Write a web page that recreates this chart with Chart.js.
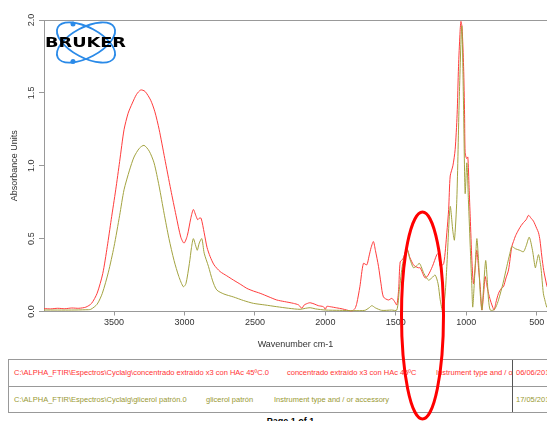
<!DOCTYPE html>
<html>
<head>
<meta charset="utf-8">
<script src="https://cdn.jsdelivr.net/npm/chart.js@4.4.1/dist/chart.umd.min.js"></script>
<style>
body { margin:0; width:547px; height:421px; overflow:hidden; background:#fff; font-family:"Liberation Sans", Arial, sans-serif; position:relative; }
#wrap { position:absolute; left:0; top:0; width:547px; height:350px; }
.tbl { position:absolute; left:8px; top:359px; width:600px; height:52px; border:1px solid #999; border-right:none; }
.row { position:absolute; left:0; width:600px; height:26px; font-size:7.5px; white-space:nowrap; line-height:26px; }
.r1 { top:0; border-bottom:1px solid #999; color:#ff3333; }
.r2 { top:27px; color:#999933; }
.row span { position:absolute; top:0; }
.clip { position:absolute; left:0; top:0; width:503px; height:26px; overflow:hidden; }
.div { position:absolute; left:503px; top:0; width:1px; height:52px; background:#555; }
.page { position:absolute; left:0; width:581px; top:417px; text-align:center; font-weight:bold; font-size:9px; line-height:1; color:#000; }
svg { position:absolute; left:0; top:0; }
</style>
</head>
<body>
<div id="wrap"><canvas id="spec" width="547" height="350"></canvas></div>
<div class="tbl">
  <div class="row r1">
    <div class="clip">
      <span style="left:5px">C:\ALPHA_FTIR\Espectros\Cyclalg\concentrado extraído x3 con HAc 45ºC.0</span>
      <span style="left:278px">concentrado extraído x3 con HAc 45ºC</span>
      <span style="left:427px">Instrument type and / or accessory</span>
    </div>
    <span style="left:507px">06/06/2012</span>
  </div>
  <div class="row r2">
    <div class="clip">
      <span style="left:5px">C:\ALPHA_FTIR\Espectros\Cyclalg\glicerol patrón.0</span>
      <span style="left:197px">glicerol patrón</span>
      <span style="left:265px">Instrument type and / or accessory</span>
    </div>
    <span style="left:507px">17/05/2012</span>
  </div>
  <div class="div"></div>
</div>
<div class="page">Page 1 of 1</div>
<svg width="547" height="421"><ellipse cx="422.5" cy="315.5" rx="21" ry="103.5" fill="none" stroke="#ff0000" stroke-width="3"/></svg>
<script>
// concentrado extraido x3 con HAc 45ºC (red)
var concWn = [3997,3950,3900,3850,3800,3750,3700,3660,3620,3580,3548,3520,3488,3460,3429,3400,3370,3340,3310,3280,3240,3210,3180,3140,3097,3060,3026,3003,2980,2955,2937,2920,2906,2895,2882,2860,2840,2818,2790,2747,2700,2653,2600,2558,2510,2463,2400,2345,2290,2227,2190,2167,2150,2120,2108,2080,2050,2014,2000,1990,1966,1920,1880,1848,1812,1790,1777,1755,1730,1706,1690,1675,1659,1645,1623,1605,1588,1553,1528,1510,1493,1480,1469,1450,1422,1400,1375,1363,1340,1327,1292,1270,1240,1209,1197,1185,1160,1138,1125,1114,1095,1079,1065,1055,1045,1038,1030,1019,1012,1008,998,989,980,972,960,949,937,925,913,901,889,877,866,854,842,830,818,802,790,771,750,736,718,700,677,665,650,629,610,594,575,558,540,523,500,487,477,464,450,429,427];
var concAbs = [0.020,0.018,0.022,0.019,0.024,0.022,0.030,0.055,0.125,0.26,0.445,0.63,0.835,1.03,1.247,1.36,1.43,1.49,1.52,1.51,1.45,1.37,1.25,1.05,0.835,0.66,0.51,0.469,0.52,0.64,0.70,0.66,0.63,0.64,0.64,0.54,0.44,0.377,0.32,0.274,0.245,0.216,0.185,0.159,0.14,0.125,0.10,0.079,0.068,0.056,0.045,0.022,0.045,0.058,0.060,0.052,0.040,0.033,0.015,0.035,0.033,0.025,0.018,0.010,0.003,0.02,0.056,0.17,0.33,0.32,0.38,0.44,0.48,0.42,0.31,0.19,0.10,0.079,0.09,0.07,0.045,0.15,0.34,0.36,0.43,0.37,0.32,0.31,0.30,0.30,0.23,0.25,0.31,0.39,0.40,0.31,0.33,0.54,0.70,0.93,1.0,1.11,1.35,1.68,1.90,1.99,1.95,1.68,1.35,1.09,1.05,1.06,0.85,0.65,0.35,0.19,0.30,0.42,0.30,0.17,0.01,0.12,0.24,0.18,0.125,0.08,0.045,0.01,0.06,0.125,0.16,0.17,0.23,0.285,0.445,0.48,0.52,0.56,0.59,0.61,0.63,0.66,0.64,0.62,0.57,0.54,0.49,0.38,0.28,0.18,0.17];

// glicerol patrón (olive)
var glicWn = [3997,3800,3700,3665,3620,3583,3540,3500,3460,3429,3390,3358,3320,3287,3250,3216,3180,3145,3110,3074,3040,3008,2990,2965,2950,2937,2920,2909,2895,2877,2860,2830,2800,2771,2720,2653,2580,2511,2430,2345,2260,2180,2140,2108,2070,2000,1900,1800,1720,1690,1670,1645,1600,1530,1493,1475,1451,1422,1400,1375,1355,1332,1300,1268,1245,1221,1200,1185,1167,1150,1138,1114,1095,1084,1067,1050,1032,1020,1008,996,985,970,961,954,940,925,913,901,889,875,862,850,842,830,807,790,771,740,712,690,677,650,620,594,575,553,530,510,500,487,470,453,440,429,427];
var glicAbs = [0.010,0.010,0.012,0.015,0.05,0.125,0.27,0.445,0.66,0.835,0.97,1.06,1.12,1.14,1.10,1.02,0.86,0.675,0.50,0.35,0.24,0.17,0.19,0.33,0.44,0.50,0.45,0.42,0.47,0.50,0.40,0.31,0.21,0.148,0.12,0.10,0.075,0.056,0.045,0.033,0.022,0.015,0.022,0.026,0.018,0.01,0.008,0.006,0.008,0.025,0.04,0.025,0.008,0.01,0.01,0.15,0.33,0.43,0.36,0.30,0.31,0.33,0.26,0.215,0.23,0.25,0.19,0.08,0.0,0.12,0.31,0.72,0.55,0.49,0.77,1.45,1.96,1.45,0.81,1.02,0.77,0.40,0.19,0.03,0.25,0.50,0.35,0.125,0.01,0.20,0.35,0.20,0.08,0.01,0.01,0.03,0.08,0.19,0.31,0.40,0.445,0.43,0.42,0.41,0.45,0.51,0.42,0.30,0.34,0.39,0.30,0.125,0.07,0.03,0.03];

var xTicks = [3500, 3000, 2500, 2000, 1500, 1000, 500];
var xMin = 427, xMax = 3997;

function pts(wn, ab) {
    return wn.map(function (w, i) { return {x: w, y: ab[i]}; });
}

var frame = {
    id: 'frame',
    afterDraw: function (chart) {
        var ctx = chart.ctx, a = chart.chartArea;
        ctx.save();
        ctx.strokeStyle = '#999';
        ctx.lineWidth = 1;
        ctx.beginPath();
        ctx.moveTo(a.left, a.top + 0.5);
        ctx.lineTo(a.right, a.top + 0.5);
        ctx.stroke();

        // bruker logo
        ctx.strokeStyle = '#2a8ae8';
        ctx.fillStyle = '#2a8ae8';
        ctx.lineWidth = 1.8;
        ctx.beginPath(); ctx.ellipse(86, 42.5, 32, 15, 0.49, 0, Math.PI * 2); ctx.stroke();
        ctx.beginPath(); ctx.ellipse(86, 42.5, 32, 15, -0.49, 0, Math.PI * 2); ctx.stroke();
        ctx.beginPath(); ctx.arc(73, 24, 2.5, 0, Math.PI * 2); ctx.fill();
        ctx.beginPath(); ctx.arc(73, 61.5, 2.5, 0, Math.PI * 2); ctx.fill();
        ctx.fillStyle = '#000';
        ctx.font = 'bold 14px "DejaVu Sans"';
        ctx.textAlign = 'center';
        ctx.textBaseline = 'middle';
        var w = ctx.measureText('BRUKER').width;
        ctx.translate(85.5, 43);
        ctx.scale(81 / w, 1);
        ctx.fillText('BRUKER', 0, 0);
        ctx.restore();
    }
};

new Chart(document.getElementById('spec'), {
    type: 'line',
    data: {
        datasets: [{
            label: 'glicerol patrón',
            data: pts(glicWn, glicAbs),
            borderColor: '#a3a340',
            borderWidth: 1,
            pointRadius: 0,
            tension: 0.25
        }, {
            label: 'concentrado extraído x3 con HAc 45ºC',
            data: pts(concWn, concAbs),
            borderColor: '#ff3c3c',
            borderWidth: 1,
            pointRadius: 0,
            tension: 0.25
        }]
    },
    options: {
        responsive: false,
        animation: false,
        layout: {padding: {top: 20, left: 0, right: 0, bottom: 0}},
        plugins: {legend: {display: false}, tooltip: {enabled: false}},
        scales: {
            x: {
                type: 'linear',
                reverse: true,
                min: xMin,
                max: xMax,
                afterBuildTicks: function (s) { s.ticks = xTicks.map(function (v) { return {value: v}; }); },
                afterFit: function (s) { s.height = 38.5; },
                ticks: {color: '#333', font: {family: 'Liberation Sans', size: 9}, padding: 2, maxRotation: 0,
                    callback: function (v) { return String(v); }},
                grid: {drawOnChartArea: false, tickLength: 4, color: '#999'},
                border: {color: '#999'},
                title: {display: true, text: 'Wavenumber cm-1', color: '#333',
                    font: {family: 'Liberation Sans', size: 9}, padding: {top: 4, bottom: 0}}
            },
            y: {
                min: 0,
                max: 2,
                afterFit: function (s) { s.width = 44; },
                ticks: {stepSize: 0.5, color: '#333', font: {family: 'Liberation Sans', size: 9},
                    minRotation: 90, maxRotation: 90, crossAlign: 'center', padding: 1,
                    callback: function (v) { return v.toFixed(1); }},
                grid: {drawOnChartArea: false, tickLength: 5, color: '#999'},
                border: {color: '#999'},
                title: {display: true, text: 'Absorbance Units', color: '#333',
                    font: {family: 'Liberation Sans', size: 9}, padding: {top: 9.5, bottom: 0}}
            }
        }
    },
    plugins: [frame]
});
</script>
</body>
</html>
